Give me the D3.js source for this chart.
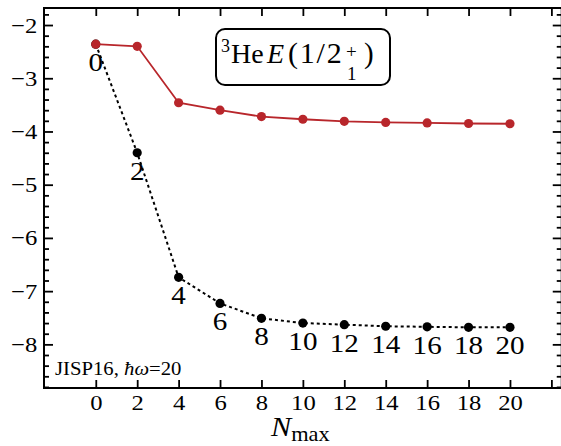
<!DOCTYPE html>
<html>
<head>
<meta charset="utf-8">
<script src="https://cdn.jsdelivr.net/npm/d3@7"></script>
<style>
  body { margin: 0; background: #fff; }
</style>
</head>
<body>
<svg id="chart" width="561" height="446"></svg>
<script>
// N_max values of the truncated basis
const nmax = [0, 2, 4, 6, 8, 10, 12, 14, 16, 18, 20];
// Ground-state energy (red, solid)
const energySolid = [-2.36, -2.40, -3.46, -3.60, -3.72, -3.77, -3.81, -3.83, -3.84, -3.85, -3.855];
// Ground-state energy (black, dotted) — labelled with N_max
const energyDotted = [-2.36, -4.40, -6.74, -7.23, -7.51, -7.60, -7.63, -7.66, -7.67, -7.68, -7.68];
// Axis ticks
const xTicks = [0, 2, 4, 6, 8, 10, 12, 14, 16, 18, 20, 22];
const xTickLabels = ["0", "2", "4", "6", "8", "10", "12", "14", "16", "18", "20", ""];
const yTicks = [-8, -7, -6, -5, -4, -3, -2];

const FONT = '"Liberation Serif", "Times New Roman", serif';
const plot = { left: 44, right: 561.75, top: 8, bottom: 388 };
const SX = 1.12; // horizontal stretch applied to the numeric labels

const svg = d3.select("#chart");

const x = d3.scaleLinear().domain([-2.5, 22.5]).range([plot.left, plot.right]);
const y = d3.scaleLinear().domain([-8.82, -1.68]).range([plot.bottom, plot.top]);

const yMinor = d3.range(-8.8, -1.7, 0.2)
  .map(v => Math.round(v * 10) / 10)
  .filter(v => Math.abs(v - Math.round(v)) > 1e-6);

function styleAxis(g) {
  g.attr("font-family", null).attr("font-size", null);
  g.select(".domain").remove();
  g.selectAll(".tick line").attr("stroke", "#000").attr("stroke-width", 1.8);
}
function styleLabels(size) {
  return g => g.selectAll("text")
    .style("font-family", FONT)
    .attr("font-size", size)
    .attr("fill", "#000")
    .attr("transform", `scale(${SX},1)`);
}

// Left axis: major ticks with labels, minor ticks
svg.append("g")
  .attr("transform", `translate(${plot.left},0)`)
  .call(d3.axisLeft(y).tickValues(yTicks).tickSize(-9).tickPadding(6).tickFormat(d3.format("d")))
  .call(styleAxis)
  .call(styleLabels(22));
svg.append("g")
  .attr("transform", `translate(${plot.left},0)`)
  .call(d3.axisLeft(y).tickValues(yMinor).tickSize(-5).tickFormat(""))
  .call(styleAxis);

// Right axis: ticks only
svg.append("g")
  .attr("transform", `translate(${plot.right},0)`)
  .call(d3.axisRight(y).tickValues(yTicks).tickSize(-9).tickFormat(""))
  .call(styleAxis);
svg.append("g")
  .attr("transform", `translate(${plot.right},0)`)
  .call(d3.axisRight(y).tickValues(yMinor).tickSize(-5).tickFormat(""))
  .call(styleAxis);

// Bottom axis with labels
svg.append("g")
  .attr("transform", `translate(0,${plot.bottom})`)
  .call(d3.axisBottom(x).tickValues(xTicks).tickSize(-8).tickPadding(6)
    .tickFormat((d, i) => xTickLabels[i]))
  .call(styleAxis)
  .call(styleLabels(22));

// Top axis: ticks only
svg.append("g")
  .attr("transform", `translate(0,${plot.top})`)
  .call(d3.axisTop(x).tickValues(xTicks).tickSize(-8).tickFormat(""))
  .call(styleAxis);

// Frame
svg.append("rect")
  .attr("x", plot.left).attr("y", plot.top)
  .attr("width", plot.right - plot.left).attr("height", plot.bottom - plot.top)
  .attr("fill", "none").attr("stroke", "#000").attr("stroke-width", 2);

const dotted = nmax.map((n, i) => ({ n, e: energyDotted[i] }));
const solid = nmax.map((n, i) => ({ n, e: energySolid[i] }));
const line = d3.line().x(d => x(d.n)).y(d => y(d.e));

// Dotted series
svg.append("path")
  .datum(dotted)
  .attr("d", line)
  .attr("fill", "none")
  .attr("stroke", "#000")
  .attr("stroke-width", 2)
  .attr("stroke-dasharray", "3,3");
svg.append("g").selectAll("circle")
  .data(dotted).join("circle")
  .attr("cx", d => x(d.n)).attr("cy", d => y(d.e))
  .attr("r", 4.6).attr("fill", "#000");

// Solid series
const red = "#b8262b";
svg.append("path")
  .datum(solid)
  .attr("d", line)
  .attr("fill", "none")
  .attr("stroke", red)
  .attr("stroke-width", 1.8);
svg.append("g").selectAll("circle")
  .data(solid).join("circle")
  .attr("cx", d => x(d.n)).attr("cy", d => y(d.e))
  .attr("r", 4.6).attr("fill", red);

// N_max labels under the dotted-series points
svg.append("g").selectAll("text")
  .data(dotted).join("text")
  .attr("transform", d => `translate(${x(d.n)},${y(d.e) + 27}) scale(${SX},1)`)
  .attr("text-anchor", "middle")
  .style("font-family", FONT)
  .attr("font-size", 26)
  .text(d => d.n);

// Title box: ³He E(1/2₁⁺)
const box = { x: 216, y: 29, w: 174, h: 56 };
svg.append("rect")
  .attr("x", box.x).attr("y", box.y).attr("width", box.w).attr("height", box.h)
  .attr("rx", 9).attr("ry", 9)
  .attr("fill", "#fff").attr("stroke", "#000").attr("stroke-width", 2);

const pieces = [
  { t: "3", x: 221, y: 52, size: 18 },
  { t: "He", x: 231, y: 63, size: 28 },
  { t: "E", x: 267, y: 63, size: 28, italic: true },
  { t: "(1/2", x: 288, y: 63, size: 30, spacing: 1.8 },
  { t: "+", x: 346, y: 58, size: 19 },
  { t: "1", x: 347, y: 80, size: 19 },
  { t: ")", x: 364, y: 63, size: 29 }
];
svg.append("g").selectAll("text")
  .data(pieces).join("text")
  .attr("x", d => d.x).attr("y", d => d.y)
  .style("font-family", FONT)
  .attr("font-size", d => d.size)
  .attr("font-style", d => d.italic ? "italic" : "normal")
  .attr("letter-spacing", d => d.spacing || 0)
  .text(d => d.t);

// Interaction / model note
const note = svg.append("text")
  .attr("transform", `translate(55,375) scale(${SX},1)`)
  .style("font-family", FONT)
  .attr("font-size", 18.5);
note.append("tspan").text("JISP16, ");
note.append("tspan").attr("font-style", "italic").text("ħω");
note.append("tspan").text("=20");

// X-axis title
const xt = svg.append("text")
  .attr("transform", `translate(271,436) scale(${SX},1)`)
  .style("font-family", FONT)
  .attr("font-size", 27);
xt.append("tspan").attr("font-style", "italic").text("N");
xt.append("tspan").attr("font-size", 20).attr("dy", 5).text("max");
</script>
</body>
</html>
